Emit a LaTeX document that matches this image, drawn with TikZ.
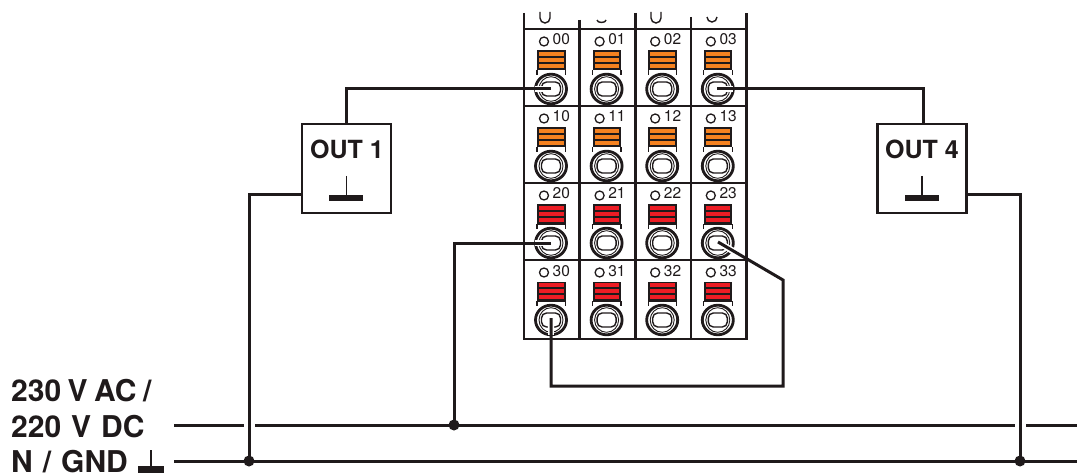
\documentclass[tikz,border=0pt]{standalone}
\usepackage{fontspec}
\setmainfont{TeX Gyre Heros}
\definecolor{ink}{HTML}{1F1A1B}
\definecolor{orng}{HTML}{F58220}
\definecolor{rd}{HTML}{ED1C24}
\tikzset{
 wire/.style={draw=ink,line width=3pt,line join=miter},
 halo/.style={draw=white,line width=6.5pt},
 frame/.style={draw=ink,line width=2.8pt},
 boxn/.style={draw=ink,line width=2.2pt,fill=white,minimum width=89pt,minimum height=89pt,inner sep=0pt},
 dot/.style={circle,fill=ink,inner sep=0pt,minimum size=11pt},
 led/.style={circle,draw=ink,line width=1.3pt,inner sep=0pt,minimum size=9pt},
 lbl/.style={font=\fontsize{15.5}{16}\selectfont,text=ink,inner sep=0pt,anchor=base west},
 big/.style={font=\fontsize{30}{31}\selectfont\bfseries,text=ink,inner sep=0pt,anchor=base west},
 boxt/.style={font=\fontsize{25}{26}\selectfont\bfseries,text=ink,inner sep=0pt},
}
\begin{document}
\begin{tikzpicture}[x=1pt,y=-1pt]
\useasboundingbox (0,0) rectangle (1077,476);
\fill[white] (0,0) rectangle (1077,476);
% terminal block frame
\draw[frame] (524,13) -- (524,339) -- (746.7,339) -- (746.7,13);
\foreach \x/\t in {579.7/20,635.3/13,691/17}{\draw[frame] (\x,\t) -- (\x,339);}
\foreach \y in {29,106.5,183,260}{\draw[draw=ink,line width=2pt] (524,\y) -- (746.7,\y);}
% clipped labels at top
\draw[ink,line width=1.4pt] (540,12) -- (540,18) arc[start angle=180,end angle=0,x radius=5,y radius=5] -- (550,12);
\draw[ink,line width=1.4pt] (597,20) arc[start angle=180,end angle=0,x radius=4.5,y radius=2.5];
\draw[ink,line width=1.4pt] (651,12) -- (651,18) arc[start angle=180,end angle=0,x radius=5,y radius=5] -- (661,12);
\draw[ink,line width=1.4pt] (707,17) arc[start angle=180,end angle=0,x radius=5,y radius=5];
% terminals
\foreach \r/\col in {0/orng,1/orng,2/rd,3/rd}{
 \foreach \c in {0,1,2,3}{
  \pgfmathsetmacro{\X}{551+55.6*\c}
  \pgfmathsetmacro{\Y}{89+77*\r}
  \begin{scope}[shift={(\X,\Y)}]
   \node[led] (led\r\c) at (-7,-47.5) {};
   \node[lbl] (lab\r\c) at (1.5,-44) {\r\c};
   \fill[ink] (-14,-38.5) rectangle (14.5,-18.5);
   \fill[\col] (-12,-36.8) rectangle (12.5,-32.6);
   \fill[\col] (-12,-30.8) rectangle (12.5,-26.6);
   \fill[\col] (-12,-24.8) rectangle (12.5,-20.6);
   \draw[ink,line width=1.3pt] (-14,-19) -- (-14,-14) (14.5,-19) -- (14.5,-14);
   \draw[ink,line width=2.8pt] (0,0) ellipse[x radius=15.5,y radius=14.8];
   \draw[ink,line width=0.9pt] (0,0) ellipse[x radius=12,y radius=12.3];
   \draw[ink,line width=1.4pt,rounded corners=5pt] (-9.5,-7) rectangle (9.5,7);
  \end{scope}
 }
}
% named wire points
\coordinate (s00) at (551,89);
\coordinate (s03) at (717,89);
\coordinate (s20) at (551,243);
\coordinate (s23) at (718,242);
\coordinate (s30) at (551,318);
\coordinate (c1) at (346,89);
\coordinate (c2) at (923,89);
\coordinate (c3) at (454,243);
\coordinate (c4) at (551,386);
\coordinate (c5) at (783,386);
\coordinate (c6) at (783,280);
\coordinate (ac0) at (174,425);
\coordinate (ac1) at (1077,425);
\coordinate (gn0) at (174,461);
\coordinate (gn1) at (1077,461);
% boxes
\node[boxn] (out1) at (346.3,168.5) {};
\node[boxn] (out4) at (922,168.5) {};
\node[boxt] (t1) at (347,149) {OUT 1};
\node[boxt] (t4) at (922,149) {OUT 4};
\foreach \x in {346.3,922}{
 \draw[ink,line width=1.6pt] (\x,176) -- (\x,197);
 \fill[ink] (\x-17,195) rectangle (\x+17,201.5);
}
% supply rails
\coordinate (j1) at (249,461);
\coordinate (j2) at (454,425);
\coordinate (j3) at (1020,461);
\coordinate (o1) at (249,195);
\coordinate (o4) at (1020,195);
\draw[wire] (ac0) -- (ac1);
\draw[wire] (gn0) -- (gn1);
\draw[draw=white,line width=4pt] (1014.5,425) -- (1025.5,425);
\draw[draw=white,line width=4pt] (243.5,425) -- (254.5,425);
% wires with white halo through the rings
\draw[halo] (s00) -- (535,89);
\draw[halo] (s03) -- (733,89);
\draw[halo] (s20) -- (535,243);
\draw[halo] (s23) -- (733,251);
\draw[halo] (s30) -- (551,335);
\draw[wire] (s00) -- (c1) -- (out1.north -| c1);
\draw[wire] (s03) -- (c2) -- (out4.north -| c2);
\draw[wire] (s20) -- (c3) -- (j2);
\draw[wire] (s30) -- (c4) -- (c5) -- (c6) -- (s23);
\draw[wire] (out1.west |- o1) -- (o1) -- (j1);
\draw[wire] (out4.east |- o4) -- (o4) -- (j3);
\node[dot] (d1) at (j1) {};
\node[dot] (d2) at (j2) {};
\node[dot] (d3) at (j3) {};
% labels
\node[big] (l1) at (11,401) {230\hspace{6.5pt}V\hspace{6.5pt}AC\hspace{6.5pt}/};
\node[big] (l2) at (11,437) {220\hspace{10pt}V\hspace{10pt}DC};
\node[big] (l3) at (11,472) {N\hspace{10pt}/\hspace{10pt}GND};
\draw[ink,line width=1.6pt] (151,450) -- (151,468);
\fill[ink] (138,466) rectangle (164,473);
\end{tikzpicture}
\end{document}
